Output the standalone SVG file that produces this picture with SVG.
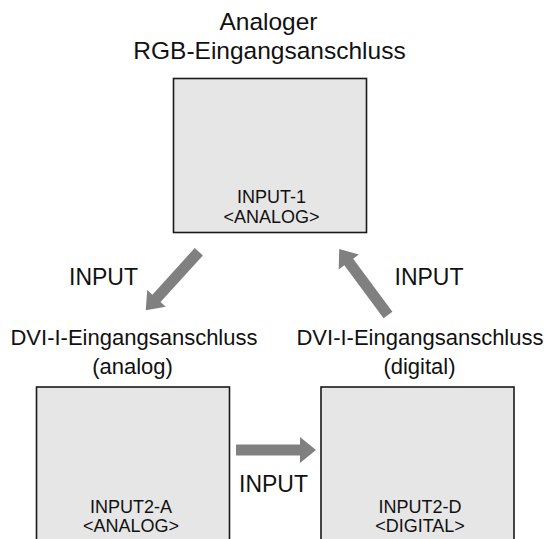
<svg xmlns="http://www.w3.org/2000/svg" width="547" height="539" viewBox="0 0 547 539">
  <style>
    .box { fill: #e6e6e6; stroke: #1a1a1a; stroke-width: 1.6; }
    .t { font-family: "Liberation Sans", Arial, Helvetica, sans-serif; fill: #111; text-anchor: middle; }
    .title { font-size: 24.5px; }
    .lbl { font-size: 22px; }
    .inp { font-size: 23px; }
    .box-t { font-size: 18px; }
    .arrow { fill: #808080; stroke: none; }
  </style>
  <rect width="547" height="539" fill="#ffffff"/>

  <g id="node-rgb">
    <text class="t title" x="268.5" y="30">Analoger</text>
    <text class="t title" x="269.5" y="59">RGB-Eingangsanschluss</text>
    <rect class="box" x="173.5" y="78.5" width="193" height="154"/>
    <text class="t box-t" x="271.5" y="203">INPUT-1</text>
    <text class="t box-t" x="271.5" y="223">&lt;ANALOG&gt;</text>
  </g>

  <g id="node-dvi-analog">
    <text class="t lbl" x="134" y="345">DVI-I-Eingangsanschluss</text>
    <text class="t lbl" x="132.5" y="374">(analog)</text>
    <rect class="box" x="36.5" y="387" width="193" height="170"/>
    <text class="t box-t" x="131" y="513">INPUT2-A</text>
    <text class="t box-t" x="131" y="532">&lt;ANALOG&gt;</text>
  </g>

  <g id="node-dvi-digital">
    <text class="t lbl" x="420" y="345">DVI-I-Eingangsanschluss</text>
    <text class="t lbl" x="419.5" y="374">(digital)</text>
    <rect class="box" x="321" y="387" width="193" height="170"/>
    <text class="t box-t" x="420" y="513">INPUT2-D</text>
    <text class="t box-t" x="420" y="532">&lt;DIGITAL&gt;</text>
  </g>

  <g id="connectors">
    <g transform="translate(198.8,251.7) rotate(132.2)">
      <polygon class="arrow" points="0,-5.5 63,-5.5 63,-12.5 79,0 63,12.5 63,5.5 0,5.5"/>
    </g>
    <text class="t inp" x="103.5" y="285">INPUT</text>

    <g transform="translate(388,315) rotate(-126.5)">
      <polygon class="arrow" points="0,-5.5 66,-5.5 66,-12.5 82,0 66,12.5 66,5.5 0,5.5"/>
    </g>
    <text class="t inp" x="429" y="285">INPUT</text>

    <g transform="translate(236,450)">
      <polygon class="arrow" points="0,-5.5 64,-5.5 64,-13 80,0 64,13 64,5.5 0,5.5"/>
    </g>
    <text class="t inp" x="273.5" y="492">INPUT</text>
  </g>
</svg>
